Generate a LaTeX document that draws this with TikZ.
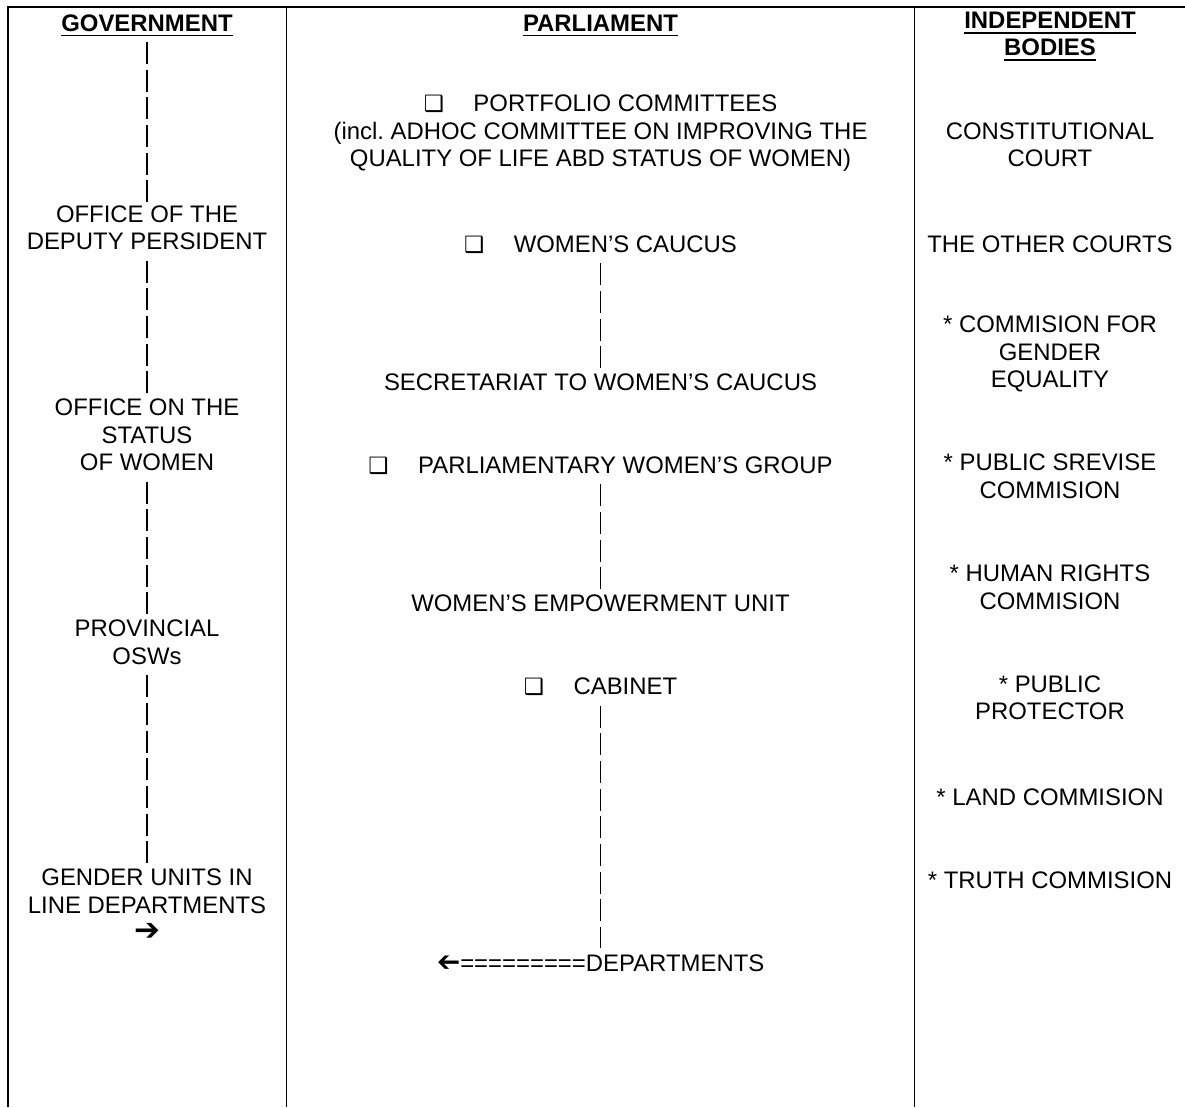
\documentclass[tikz,border=0pt]{standalone}
\usepackage{fontspec}
\setmainfont{Liberation Sans}
\newfontfamily\symfont{DejaVu Sans}
\usepackage{graphicx}

% underlined bold column heading
\newcommand{\hdr}[1]{\setbox0\hbox{\bfseries #1}\rlap{\usebox0}\rule[-3.8pt]{\wd0}{1.4pt}}
% shadowed box bullet
\newcommand{\boxmark}{{\symfont\fontsize{16}{16}\selectfont ❑}\hspace{21pt}}
% arrows
\newcommand{\rarr}{{\symfont\fontsize{22}{22}\selectfont ➔}}
\newcommand{\larr}{{\symfont\fontsize{20}{20}\selectfont\reflectbox{➔}}}

\tikzset{
  lbl/.style={align=center, inner sep=0pt, anchor=north,
    font=\fontsize{17}{19.67}\selectfont,
    execute at begin node=\strut, execute at end node=\strut},
  bars/.style={line width=1.4pt, dash pattern=on 15.65pt off 4.02pt,
    shorten <=1.67pt, shorten >=2.34pt},
  rule/.style={line width=1.4pt}
}

\begin{document}
\begin{tikzpicture}[x=0.025cm, y=-0.025cm,
  declare function={row(\n)=11.5+27.65*\n;}]
\useasboundingbox (0,0) rectangle (1185,1107);

% Table rules
\draw[rule] (1185,7) -- (8,7) -- (8,1107);
\draw[rule] (286.5,7) -- (286.5,1107);
\draw[rule] (914.5,7) -- (914.5,1107);

% Column centres
\def\xGov{147}
\def\xPar{600.5}
\def\xInd{1050}

% Government
\node[lbl] (gov)  at (\xGov,{row(0)})  {\hdr{GOVERNMENT}};
\node[lbl] (dpo)  at (\xGov,{row(7)})  {OFFICE OF THE\\DEPUTY PERSIDENT};
\node[lbl] (osw)  at (\xGov,{row(14)}) {OFFICE ON THE\\STATUS\\OF WOMEN};
\node[lbl] (posw) at (\xGov,{row(22)}) {PROVINCIAL\\OSWs};
\node[lbl] (gu)   at (\xGov,{row(31)}) {GENDER UNITS IN\\LINE DEPARTMENTS\\\smash{\rarr}};

\draw[bars] (gov.south) -- (dpo.north);
\draw[bars] (dpo.south) -- (osw.north);
\draw[bars] (osw.south) -- (posw.north);
\draw[bars] (posw.south) -- (gu.north);

% Parliament
\node[lbl] (par) at (\xPar,{row(0)})  {\hdr{PARLIAMENT}};
\node[lbl] (pc)  at (\xPar,{row(3)})  {\boxmark PORTFOLIO COMMITTEES\\(incl.\ ADHOC COMMITTEE ON IMPROVING THE\\QUALITY OF LIFE ABD STATUS OF WOMEN)};
\node[lbl] (wc)  at (\xPar,{row(8)})  {\boxmark WOMEN’S CAUCUS};
\node[lbl] (sec) at (\xPar,{row(13)}) {SECRETARIAT TO WOMEN’S CAUCUS};
\node[lbl] (pwg) at (\xPar,{row(16)}) {\boxmark PARLIAMENTARY WOMEN’S GROUP};
\node[lbl] (weu) at (\xPar,{row(21)}) {WOMEN’S EMPOWERMENT UNIT};
\node[lbl] (cab) at (\xPar,{row(24)}) {\boxmark CABINET};
\node[lbl] (dep) at (\xPar,{row(34)}) {\larr=========DEPARTMENTS};

\draw[bars] (wc.south) -- (sec.north);
\draw[bars] (pwg.south) -- (weu.north);
\draw[bars] (cab.south) -- (dep.north);

% Independent bodies
\node[lbl] (ind) at (\xInd,{row(0)})  {\hdr{INDEPENDENT}\\\hdr{BODIES}};
\node[lbl] (cc)  at (\xInd,{row(4)})  {CONSTITUTIONAL\\COURT};
\node[lbl] (oc)  at (\xInd,{row(8)})  {THE OTHER COURTS};
\node[lbl] (cge) at (\xInd,{row(11)}) {* COMMISION FOR\\GENDER\\EQUALITY};
\node[lbl] (psc) at (\xInd,{row(16)}) {* PUBLIC SREVISE\\COMMISION};
\node[lbl] (hrc) at (\xInd,{row(20)}) {* HUMAN RIGHTS\\COMMISION};
\node[lbl] (pp)  at (\xInd,{row(24)}) {* PUBLIC\\PROTECTOR};
\node[lbl] (lc)  at (\xInd,{row(28)}) {* LAND COMMISION};
\node[lbl] (tc)  at (\xInd,{row(31)}) {* TRUTH COMMISION};

\end{tikzpicture}
\end{document}
